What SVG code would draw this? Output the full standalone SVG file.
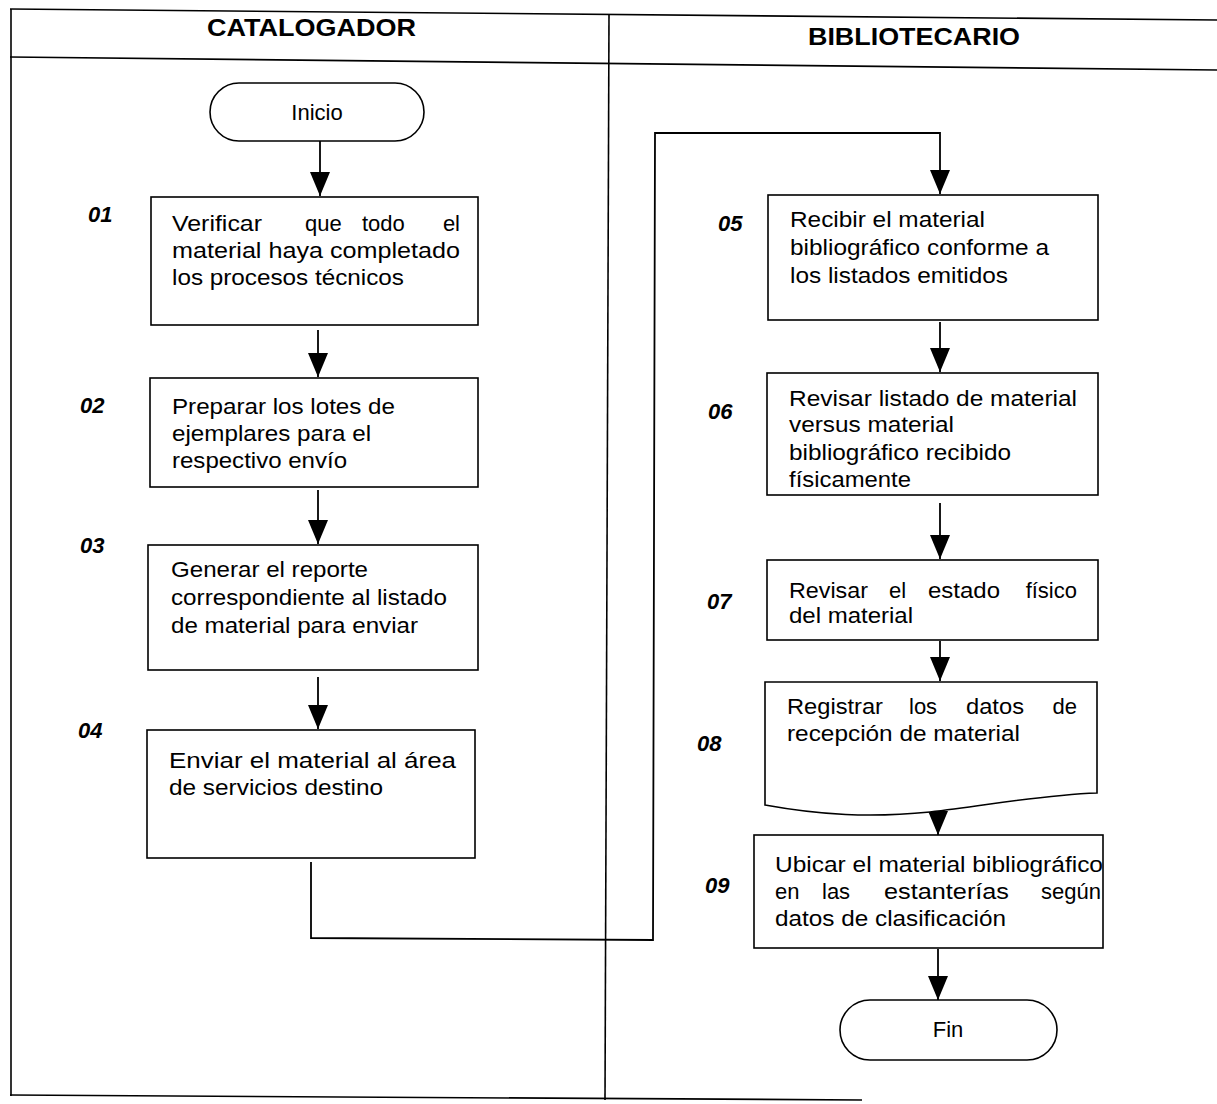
<svg xmlns="http://www.w3.org/2000/svg" width="1217" height="1104" viewBox="0 0 1217 1104">
<defs>
<marker id="ah" markerUnits="userSpaceOnUse" markerWidth="24" markerHeight="20" refX="24" refY="10" orient="auto" viewBox="0 0 24 20">
<path d="M0,0 L24,10 L0,20 Z" fill="#000"/>
</marker>
</defs>
<style>
.frame{stroke:#000;stroke-width:1.6;fill:none}
.box{stroke:#000;stroke-width:1.6;fill:#fff}
.conn{stroke:#000;stroke-width:1.8;fill:none}
.t{font-family:"Liberation Sans",Arial,sans-serif;font-size:22px;fill:#000}
.e{text-anchor:end}
.h{font-family:"Liberation Sans",Arial,sans-serif;font-size:24px;font-weight:bold;fill:#000}
.n{font-family:"Liberation Sans",Arial,sans-serif;font-size:22px;font-weight:bold;font-style:italic;fill:#000}
</style>
<rect width="1217" height="1104" fill="#fff"/>
<g id="frame">
<line class="frame" x1="10" y1="9" x2="1217" y2="20"/>
<line class="frame" x1="10" y1="57" x2="1217" y2="70"/>
<line class="frame" x1="11" y1="9" x2="11" y2="1096"/>
<line class="frame" x1="609" y1="14" x2="605" y2="1100"/>
<line class="frame" x1="10" y1="1095" x2="862" y2="1100"/>
<text class="h" x="207" y="36" textLength="209" lengthAdjust="spacingAndGlyphs">CATALOGADOR</text>
<text class="h" x="808" y="45" textLength="212" lengthAdjust="spacingAndGlyphs">BIBLIOTECARIO</text>
</g>
<g id="connectors">
<line class="conn" x1="320" y1="141" x2="320" y2="196" marker-end="url(#ah)"/>
<line class="conn" x1="318" y1="330" x2="318" y2="377" marker-end="url(#ah)"/>
<line class="conn" x1="318" y1="490" x2="318" y2="544" marker-end="url(#ah)"/>
<line class="conn" x1="318" y1="677" x2="318" y2="729" marker-end="url(#ah)"/>
<polyline class="conn" points="311,862 311,938 653,940 655,133 940,133 940,194" marker-end="url(#ah)"/>
<line class="conn" x1="940" y1="322" x2="940" y2="372" marker-end="url(#ah)"/>
<line class="conn" x1="940" y1="503" x2="940" y2="559" marker-end="url(#ah)"/>
<line class="conn" x1="940" y1="641" x2="940" y2="681" marker-end="url(#ah)"/>
<line class="conn" x1="938" y1="806" x2="938" y2="835" marker-end="url(#ah)"/>
<line class="conn" x1="938" y1="949" x2="938" y2="1000" marker-end="url(#ah)"/>
</g>
<g id="inicio">
<rect class="box" x="210" y="83" width="214" height="58" rx="29" ry="29"/>
<text class="t" x="317" y="120" text-anchor="middle">Inicio</text>
</g>
<g id="n01">
<rect class="box" x="151" y="197" width="327" height="128"/>
<text class="n" x="88" y="222">01</text>
<text class="t" x="172" y="231" textLength="90" lengthAdjust="spacingAndGlyphs">Verificar</text>
<text class="t" x="305" y="231">que</text>
<text class="t" x="362" y="231">todo</text>
<text class="t e" x="460" y="231">el</text>
<text class="t" x="172" y="258" textLength="288" lengthAdjust="spacingAndGlyphs">material haya completado</text>
<text class="t" x="172" y="285" textLength="232" lengthAdjust="spacingAndGlyphs">los procesos técnicos</text>
</g>
<g id="n02">
<rect class="box" x="150" y="378" width="328" height="109"/>
<text class="n" x="80" y="413">02</text>
<text class="t" x="172" y="414" textLength="223" lengthAdjust="spacingAndGlyphs">Preparar los lotes de</text>
<text class="t" x="172" y="441" textLength="199" lengthAdjust="spacingAndGlyphs">ejemplares para el</text>
<text class="t" x="172" y="468" textLength="175" lengthAdjust="spacingAndGlyphs">respectivo envío</text>
</g>
<g id="n03">
<rect class="box" x="148" y="545" width="330" height="125"/>
<text class="n" x="80" y="553">03</text>
<text class="t" x="171" y="577" textLength="197" lengthAdjust="spacingAndGlyphs">Generar el reporte</text>
<text class="t" x="171" y="605" textLength="276" lengthAdjust="spacingAndGlyphs">correspondiente al listado</text>
<text class="t" x="171" y="633" textLength="247" lengthAdjust="spacingAndGlyphs">de material para enviar</text>
</g>
<g id="n04">
<rect class="box" x="147" y="730" width="328" height="128"/>
<text class="n" x="78" y="738">04</text>
<text class="t" x="169" y="768" textLength="287" lengthAdjust="spacingAndGlyphs">Enviar el material al área</text>
<text class="t" x="169" y="795" textLength="214" lengthAdjust="spacingAndGlyphs">de servicios destino</text>
</g>
<g id="n05">
<rect class="box" x="768" y="195" width="330" height="125"/>
<text class="n" x="718" y="231">05</text>
<text class="t" x="790" y="227" textLength="195" lengthAdjust="spacingAndGlyphs">Recibir el material</text>
<text class="t" x="790" y="255" textLength="259" lengthAdjust="spacingAndGlyphs">bibliográfico conforme a</text>
<text class="t" x="790" y="283" textLength="218" lengthAdjust="spacingAndGlyphs">los listados emitidos</text>
</g>
<g id="n06">
<rect class="box" x="767" y="373" width="331" height="122"/>
<text class="n" x="708" y="419">06</text>
<text class="t" x="789" y="406" textLength="288" lengthAdjust="spacingAndGlyphs">Revisar listado de material</text>
<text class="t" x="789" y="432" textLength="165" lengthAdjust="spacingAndGlyphs">versus material</text>
<text class="t" x="789" y="460" textLength="222" lengthAdjust="spacingAndGlyphs">bibliográfico recibido</text>
<text class="t" x="789" y="487" textLength="122" lengthAdjust="spacingAndGlyphs">físicamente</text>
</g>
<g id="n07">
<rect class="box" x="767" y="560" width="331" height="80"/>
<text class="n" x="707" y="609">07</text>
<text class="t" x="789" y="598" textLength="79" lengthAdjust="spacingAndGlyphs">Revisar</text>
<text class="t" x="889" y="598">el</text>
<text class="t" x="928" y="598" textLength="72" lengthAdjust="spacingAndGlyphs">estado</text>
<text class="t e" x="1077" y="598">físico</text>
<text class="t" x="789" y="623" textLength="124" lengthAdjust="spacingAndGlyphs">del material</text>
</g>
<g id="n08">
<path class="box" d="M765,682 H1097 V793 C1040,795 990,805 930,812 C870,818 820,815 765,805 Z"/>
<text class="n" x="697" y="751">08</text>
<text class="t" x="787" y="714" textLength="96" lengthAdjust="spacingAndGlyphs">Registrar</text>
<text class="t" x="909" y="714">los</text>
<text class="t" x="966" y="714" textLength="58" lengthAdjust="spacingAndGlyphs">datos</text>
<text class="t e" x="1077" y="714">de</text>
<text class="t" x="787" y="741" textLength="233" lengthAdjust="spacingAndGlyphs">recepción de material</text>
</g>
<g id="n09">
<rect class="box" x="754" y="835" width="349" height="113"/>
<text class="n" x="705" y="893">09</text>
<text class="t" x="775" y="872" textLength="328" lengthAdjust="spacingAndGlyphs">Ubicar el material bibliográfico</text>
<text class="t" x="775" y="899">en</text>
<text class="t" x="822" y="899">las</text>
<text class="t" x="884" y="899" textLength="125" lengthAdjust="spacingAndGlyphs">estanterías</text>
<text class="t e" x="1101" y="899">según</text>
<text class="t" x="775" y="926" textLength="231" lengthAdjust="spacingAndGlyphs">datos de clasificación</text>
</g>
<g id="fin">
<rect class="box" x="840" y="1000" width="217" height="60" rx="30" ry="30"/>
<text class="t" x="948" y="1037" text-anchor="middle">Fin</text>
</g>
</svg>
